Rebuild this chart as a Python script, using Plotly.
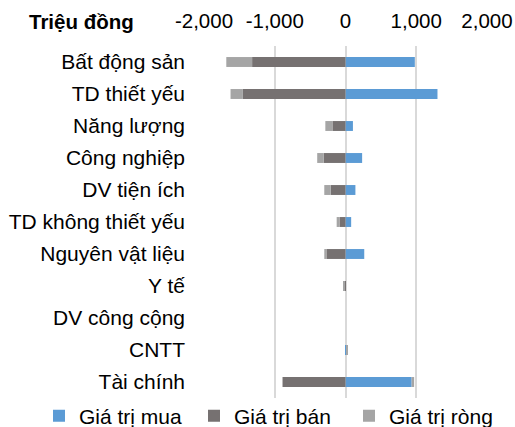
import plotly.graph_objects as go

categories = ["Bất động sản", "TD thiết yếu", "Năng lượng", "Công nghiệp", "DV tiện ích",
              "TD không thiết yếu", "Nguyên vật liệu", "Y tế", "DV công cộng", "CNTT", "Tài chính"]
buy_values = [980, 1300, 105, 235, 140, 80, 265, 0, 0, 20, 935]
sell_values = [-1320, -1450, -185, -310, -210, -85, -270, -10, 0, 0, -890]
net_values = [-365, -175, -100, -90, -90, -40, -30, -25, 0, 10, 35]

series_names = ["Giá trị mua", "Giá trị bán", "Giá trị ròng"]
series_colors = ["#5B9BD5", "#767171", "#A5A5A5"]

x_tick_values = [-2000, -1000, 0, 1000, 2000]
x_tick_labels = ["-2,000", "-1,000", "0", "1,000", "2,000"]

FONT = "Liberation Sans, Arial, sans-serif"
PL, PR, PT, PB = 204, 487, 46, 398  # plot area in px

fig = go.Figure()
for name, vals, col in zip(series_names, [buy_values, sell_values, net_values], series_colors):
    fig.add_trace(go.Bar(
        y=categories, x=vals, name=name, orientation="h",
        marker=dict(color=col, line=dict(width=0)),
    ))

fig.update_layout(
    width=515, height=427,
    barmode="relative", bargap=0.69,
    paper_bgcolor="white", plot_bgcolor="white",
    margin=dict(l=PL, r=515-PR, t=PT, b=427-PB, autoexpand=False),
    font=dict(family=FONT, size=21, color="#000000"),
    title=dict(text="<b>Triệu đồng</b>", x=29/515, xanchor="left", xref="container",
               y=1-22/427, yanchor="middle", yref="container",
               font=dict(family=FONT, size=20.5, color="#000000")),
    xaxis=dict(side="top", range=[-2000, 2000], tickvals=x_tick_values, ticktext=x_tick_labels,
               showgrid=True, gridcolor="#D9D9D9", gridwidth=1.5, zeroline=False,
               showline=False, ticks="", ticklabelstandoff=13,
               tickfont=dict(family=FONT, size=20.5, color="#000000"), fixedrange=True),
    yaxis=dict(autorange="reversed", showgrid=False, zeroline=False, showline=False,
               ticks="", ticklabelstandoff=18,
               tickfont=dict(family=FONT, size=21, color="#000000"), fixedrange=True),
    showlegend=True,
    legend=dict(orientation="h", xref="paper", yref="paper",
                x=(39-PL)/(PR-PL), xanchor="left", y=(PB-416)/(PB-PT), yanchor="middle",
                entrywidth=110, entrywidthmode="pixels",
                font=dict(family=FONT, size=21, color="#000000"),
                bgcolor="rgba(0,0,0,0)", traceorder="normal"),
)

fig.write_html("out.html", config={"displayModeBar": False},
               post_script="document.body.style.margin='0';")
